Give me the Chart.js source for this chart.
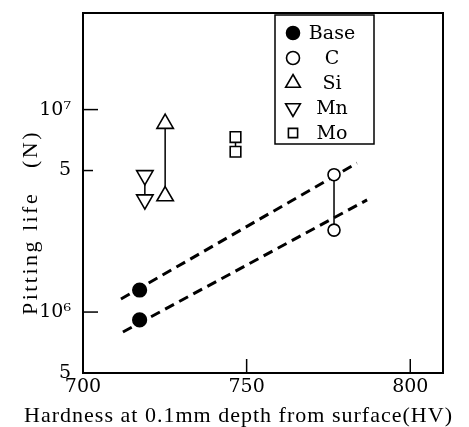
<!DOCTYPE html>
<html>
<head>
<meta charset="utf-8">
<script src="https://cdn.jsdelivr.net/npm/chart.js@4.4.1/dist/chart.umd.min.js"></script>
<style>
    body { margin: 0; background: #fff; }
</style>
</head>
<body>
<canvas id="grafica" width="469" height="427"></canvas>
<script>
// datos
const baseX = [717.3, 717.3];
const baseY = [1.285e6, 0.914e6];
const cX = [776.7, 776.7];
const cY = [4.77e6, 2.54e6];
const siX = [725.1, 725.1];
const siY = [8.53e6, 3.74e6];
const mnX = [718.9, 718.9];
const mnY = [4.73e6, 3.59e6];
const moX = [746.6, 746.6];
const moY = [7.32e6, 6.19e6];

// rectas de tendencia (punteadas)
const ajusteAX = [711.6, 783.7];
const ajusteAY = [1.16e6, 5.44e6];
const ajusteBX = [712.2, 786.8];
const ajusteBY = [0.797e6, 3.58e6];

const xTicks = [700, 750, 800];
const yTicks = [5e5, 1e6, 5e6, 1e7];
const yTickLabels = ['5', '10\u2076', '5', '10\u2077'];

const tituloX = 'Hardness at 0.1mm depth from surface(HV)';
const tituloY = 'Pitting life   (N)';
const fuente = '"Liberation Serif", "DejaVu Serif", serif';
const fuenteAncha = '"DejaVu Serif", serif';

const puntos = (xs, ys) => xs.map((x, i) => ({ x: x, y: ys[i] }));

const serie = (label, xs, ys, estilo, radio, relleno, rot, linea) => ({
    label: label,
    data: puntos(xs, ys),
    showLine: linea !== false,
    borderColor: '#000',
    borderWidth: 1.5,
    pointStyle: estilo,
    pointRadius: radio,
    pointRotation: rot || 0,
    pointBackgroundColor: relleno,
    pointBorderColor: '#000',
    pointBorderWidth: 1.6,
    inLegend: true
});

const recta = (xs, ys) => ({
    label: 'ajuste',
    data: puntos(xs, ys),
    showLine: true,
    borderColor: '#000',
    borderWidth: 3,
    borderDash: [10, 6],
    pointRadius: 0,
    inLegend: false
});

// marco, marcas hacia adentro, titulos y leyenda
const extras = {
    id: 'extras',
    afterDraw: (chart) => {
        const ctx = chart.ctx;
        const area = chart.chartArea;
        const sx = chart.scales.x;
        const sy = chart.scales.y;
        ctx.save();
        ctx.strokeStyle = '#000';
        ctx.lineWidth = 2;
        ctx.strokeRect(area.left, area.top, area.right - area.left, area.bottom - area.top);

        ctx.lineWidth = 1.5;
        xTicks.forEach(v => {
            if (v <= sx.min) return;
            const px = sx.getPixelForValue(v);
            ctx.beginPath();
            ctx.moveTo(px, area.bottom);
            ctx.lineTo(px, area.bottom - 14);
            ctx.stroke();
        });
        yTicks.forEach(v => {
            if (v <= sy.min) return;
            const py = sy.getPixelForValue(v);
            const largo = String(v).startsWith('1') ? 15 : 10;
            ctx.beginPath();
            ctx.moveTo(area.left, py);
            ctx.lineTo(area.left + largo, py);
            ctx.stroke();
        });

        // titulos de ejes
        ctx.fillStyle = '#000';
        ctx.textAlign = 'left';
        ctx.textBaseline = 'alphabetic';
        ctx.font = '22px ' + fuente;
        ctx.letterSpacing = '0px';
        let w = ctx.measureText(tituloX).width;
        ctx.letterSpacing = ((429 - w) / tituloX.length) + 'px';
        ctx.fillText(tituloX, 24, 422);

        ctx.font = '22px ' + fuente;
        ctx.letterSpacing = '0px';
        w = ctx.measureText(tituloY).width;
        ctx.letterSpacing = ((185 - w) / tituloY.length) + 'px';
        ctx.translate(37, 315);
        ctx.rotate(-Math.PI / 2);
        ctx.fillText(tituloY, 0, 0);
        ctx.restore();

        // leyenda
        ctx.save();
        ctx.strokeStyle = '#000';
        ctx.lineWidth = 1.5;
        ctx.strokeRect(275, 15, 99, 129);
        ctx.font = '19px ' + fuenteAncha;
        ctx.textAlign = 'center';
        ctx.textBaseline = 'middle';
        const tam = { circle: 6.5, triangle: 8.5, rect: 6.5 };
        let y = 33;
        chart.data.datasets.filter(d => d.inLegend).forEach(d => {
            ctx.fillStyle = d.pointBackgroundColor;
            ctx.strokeStyle = '#000';
            ctx.lineWidth = 1.6;
            Chart.helpers.drawPoint(ctx, {
                pointStyle: d.pointStyle,
                radius: tam[d.pointStyle],
                rotation: d.pointRotation,
                borderWidth: 1.6
            }, 293, y);
            ctx.fillStyle = '#000';
            ctx.fillText(d.label, 332, y + 1);
            y += 25;
        });
        ctx.restore();
    }
};

const ctx = document.getElementById('grafica').getContext('2d');
new Chart(ctx, {
    type: 'scatter',
    data: {
        datasets: [
            serie('Base', baseX, baseY, 'circle', 6.8, '#000', 0, false),
            serie('C', cX, cY, 'circle', 6, '#fff'),
            serie('Si', siX, siY, 'triangle', 9.5, '#fff'),
            serie('Mn', mnX, mnY, 'triangle', 9.5, '#fff', 180),
            serie('Mo', moX, moY, 'rect', 7.5, '#fff'),
            recta(ajusteAX, ajusteAY),
            recta(ajusteBX, ajusteBY)
        ]
    },
    options: {
        responsive: false,
        animation: false,
        layout: { padding: { top: 13, right: 26, left: 0, bottom: 0 } },
        plugins: {
            legend: { display: false },
            tooltip: { enabled: false }
        },
        scales: {
            x: {
                type: 'linear',
                min: 700,
                max: 810,
                grid: { display: false, drawTicks: false },
                border: { display: false },
                afterFit: (scale) => {
                    scale.height = 54;
                    scale.paddingLeft = 0;
                    scale.paddingRight = 0;
                },
                afterBuildTicks: (scale) => { scale.ticks = xTicks.map(v => ({ value: v })); },
                ticks: {
                    padding: 3,
                    maxRotation: 0,
                    color: '#000',
                    font: { family: fuenteAncha, size: 19 },
                    callback: (v) => String(v)
                }
            },
            y: {
                type: 'logarithmic',
                min: 5e5,
                max: 3e7,
                grid: { display: false, drawTicks: false },
                border: { display: false },
                afterFit: (scale) => {
                    scale.width = 83;
                    scale.paddingTop = 0;
                    scale.paddingBottom = 0;
                },
                afterBuildTicks: (scale) => { scale.ticks = yTicks.map(v => ({ value: v })); },
                ticks: {
                    padding: 12,
                    color: '#000',
                    font: { family: fuenteAncha, size: 19 },
                    callback: (v) => yTickLabels[yTicks.indexOf(v)]
                }
            }
        }
    },
    plugins: [extras]
});
</script>
</body>
</html>
